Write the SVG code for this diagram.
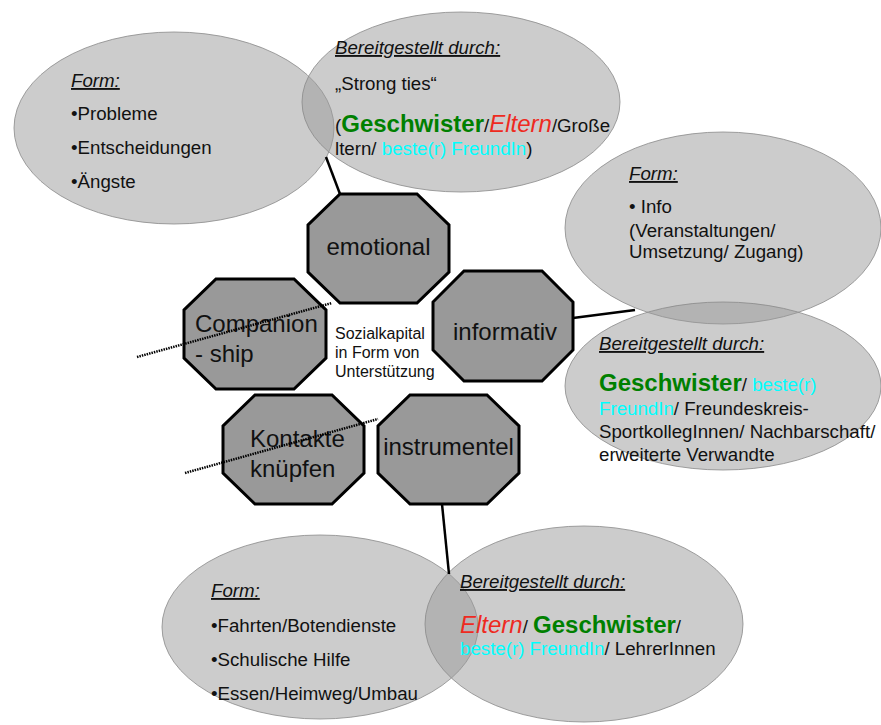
<svg xmlns="http://www.w3.org/2000/svg" width="881" height="725" viewBox="0 0 881 725">
<style>
text{font-family:"Liberation Sans",Arial,sans-serif;fill:#111}
.ell{fill:#999;fill-opacity:0.5;stroke:#8a8a8a;stroke-opacity:0.8;stroke-width:1}
.oct{fill:#999;stroke:#000;stroke-width:3;stroke-linejoin:miter}
.t{font-size:18.7px}
.h{font-size:18.7px;font-style:italic;text-decoration:underline}
.lbl{font-size:24px}
.g{font-size:24px;font-weight:bold;fill:#008000}
.r{font-size:24px;font-style:italic;fill:#ee2a1f}
.c{fill:#00ffff}
.line{stroke:#000;stroke-width:2.5;fill:none}
.dot{stroke:#000;stroke-width:2.5;stroke-dasharray:1.5 1;fill:none}
</style>
<g id="form-emotional">
<ellipse class="ell" cx="174" cy="128" rx="160" ry="96"/>
<text class="h" x="71" y="87">Form:</text>
<text class="t" x="71" y="120">•Probleme</text>
<text class="t" x="71" y="154">•Entscheidungen</text>
<text class="t" x="71" y="188">•Ängste</text>
</g>
<g id="bereit-emotional">
<ellipse class="ell" cx="461" cy="102" rx="159" ry="90"/>
<text class="h" x="335" y="54">Bereitgestellt durch:</text>
<text class="t" x="335" y="90">„Strong ties“</text>
<text class="t" x="335" y="132">(<tspan class="g">Geschwister</tspan>/<tspan class="r">Eltern</tspan>/Große</text>
<text class="t" x="335" y="155">ltern/ <tspan class="c">beste(r) FreundIn</tspan>)</text>
</g>
<g id="form-informativ">
<ellipse class="ell" cx="723" cy="228" rx="158" ry="96"/>
<text class="h" x="629" y="180">Form:</text>
<text class="t" x="629" y="213">• Info</text>
<text class="t" x="629" y="237">(Veranstaltungen/</text>
<text class="t" x="629" y="258">Umsetzung/ Zugang)</text>
</g>
<g id="bereit-informativ">
<ellipse class="ell" cx="723" cy="386" rx="158" ry="84"/>
<text class="h" x="599" y="350">Bereitgestellt durch:</text>
<text class="t" x="599" y="391"><tspan class="g">Geschwister</tspan>/ <tspan class="c">beste(r)</tspan></text>
<text class="t" x="599" y="415"><tspan class="c">FreundIn</tspan>/ Freundeskreis-</text>
<text class="t" x="599" y="438">SportkollegInnen/ Nachbarschaft/</text>
<text class="t" x="599" y="461">erweiterte Verwandte</text>
</g>
<g id="form-instrumentel">
<ellipse class="ell" cx="320" cy="627" rx="158" ry="92"/>
<text class="h" x="211" y="597">Form:</text>
<text class="t" x="211" y="632">•Fahrten/Botendienste</text>
<text class="t" x="211" y="666">•Schulische Hilfe</text>
<text class="t" x="211" y="700">•Essen/Heimweg/Umbau</text>
</g>
<g id="bereit-instrumentel">
<ellipse class="ell" cx="584" cy="624" rx="159" ry="98"/>
<text class="h" x="460" y="588">Bereitgestellt durch:</text>
<text class="t" x="460" y="633"><tspan class="r">Eltern</tspan>/ <tspan class="g">Geschwister</tspan>/</text>
<text class="t" x="460" y="655"><tspan class="c">beste(r) FreundIn</tspan>/ LehrerInnen</text>
</g>
<g id="center">
<text x="335" y="339" font-size="16">Sozialkapital</text>
<text x="335" y="358" font-size="16">in Form von</text>
<text x="335" y="377" font-size="16">Unterstützung</text>
</g>
<g id="emotional">
<polygon class="oct" points="340,194 417,194 449,225 449,272 417,303 340,303 308,272 308,225"/>
<text class="lbl" x="378.5" y="255" text-anchor="middle">emotional</text>
</g>
<g id="informativ">
<polygon class="oct" points="464,271 542,271 573,302 573,350 542,381 464,381 433,350 433,302"/>
<text class="lbl" x="505" y="340" text-anchor="middle">informativ</text>
</g>
<g id="companionship">
<polygon class="oct" points="216,279 294,279 326,310 326,358 294,389 216,389 184,358 184,310"/>
<text class="lbl" x="195" y="332">Companion</text>
<text class="lbl" x="195" y="362">- ship</text>
</g>
<g id="kontakte">
<polygon class="oct" points="255,395 332,395 364,426 364,473 332,504 255,504 223,473 223,426"/>
<text class="lbl" x="250" y="447">Kontakte</text>
<text class="lbl" x="250" y="477">knüpfen</text>
</g>
<g id="instrumentel">
<polygon class="oct" points="410,395 487,395 519,426 519,473 487,504 410,504 378,473 378,426"/>
<text class="lbl" x="448.5" y="455" text-anchor="middle">instrumentel</text>
</g>
<g id="connectors">
<line class="line" x1="340" y1="194" x2="326" y2="157"/>
<line class="line" x1="573" y1="318" x2="635" y2="310"/>
<line class="line" x1="442" y1="504" x2="449" y2="574"/>
<line class="dot" x1="137" y1="357" x2="332" y2="303"/>
<line class="dot" x1="185" y1="473" x2="378" y2="419"/>
</g>
</svg>
